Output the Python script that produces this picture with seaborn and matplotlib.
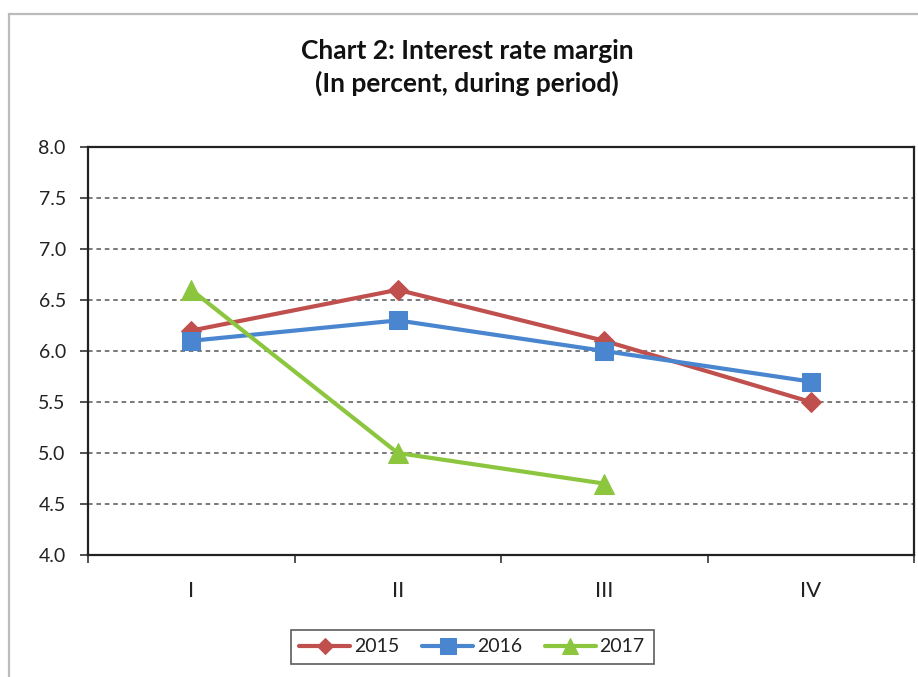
import matplotlib
matplotlib.use("Agg")
import matplotlib.pyplot as plt
import matplotlib.patches as mpatches
from matplotlib.ticker import FixedLocator, FormatStrFormatter
import pandas as pd
import seaborn as sns

# Quarterly interest rate margin, percent
quarters = ["I", "II", "III", "IV"]
margin_2015 = [6.2, 6.6, 6.1, 5.5]
margin_2016 = [6.1, 6.3, 6.0, 5.7]
margin_2017 = [6.6, 5.0, 4.7]
years = ["2015", "2016", "2017"]
y_ticks = [4.0, 4.5, 5.0, 5.5, 6.0, 6.5, 7.0, 7.5, 8.0]

rows = []
for year, vals in zip(years, [margin_2015, margin_2016, margin_2017]):
    for q, v in zip(quarters, vals):
        rows.append({"quarter": q, "year": year, "margin": v})
df = pd.DataFrame(rows)
df["pos"] = df["quarter"].map({q: i for i, q in enumerate(quarters)})

sns.set_theme(style="white")
plt.rcParams["font.family"] = ["Lato", "DejaVu Sans"]

palette = {"2015": "#C0504D", "2016": "#4A86D0", "2017": "#8CC63F"}
markers = {"2015": "D", "2016": "s", "2017": "^"}
msizes = {"2015": 10, "2016": 13, "2017": 14}

fig = plt.figure(figsize=(9.18, 6.77), dpi=100)
ax = fig.add_axes([88 / 918, 1 - 555 / 677, (914 - 88) / 918, (555 - 147) / 677])

for year in years:
    sub = df[df["year"] == year]
    sns.lineplot(data=sub, x="pos", y="margin", color=palette[year],
                 marker=markers[year], markersize=msizes[year],
                 markeredgecolor=palette[year], linewidth=3.0,
                 label=year, ax=ax, zorder=3)

ax.set_xlim(-0.5, 3.5)
ax.set_ylim(4.0, 8.0)
ax.set_xlabel("")
ax.set_ylabel("")

ax.xaxis.set_major_locator(FixedLocator(range(len(quarters))))
ax.set_xticklabels(quarters)
ax.xaxis.set_minor_locator(FixedLocator([-0.5, 0.5, 1.5, 2.5, 3.5]))
ax.tick_params(axis="x", which="major", length=0, pad=19, labelsize=16, colors="#222222")
ax.tick_params(axis="x", which="minor", length=6, width=1.2, color="#333333", direction="out")

ax.yaxis.set_major_locator(FixedLocator(y_ticks))
ax.yaxis.set_major_formatter(FormatStrFormatter("%.1f"))
ax.tick_params(axis="y", length=6, width=1.2, color="#333333", direction="out",
               labelsize=14, pad=10, labelcolor="#222222")
ax.tick_params(left=True, bottom=True, which="both")

for yv in y_ticks[1:-1]:
    ax.axhline(yv, color="#555555", linestyle=(0, (3, 2.5)), linewidth=1.1, zorder=1)

for sp in ax.spines.values():
    sp.set_visible(True)
    sp.set_color("#222222")
    sp.set_linewidth(1.6)

handles, labels = ax.get_legend_handles_labels()
ax.get_legend().remove()
leg = fig.legend(handles, labels, loc="center", bbox_to_anchor=(472 / 918, 1 - 647 / 677),
                 ncol=3, frameon=True, fancybox=False, fontsize=14,
                 handlelength=2.6, handletextpad=0.2, columnspacing=1.2,
                 borderpad=0.45, markerscale=0.85)
leg.get_frame().set_edgecolor("#333333")
leg.get_frame().set_linewidth(1.2)
for t in leg.get_texts():
    t.set_color("#222222")

fig.text(467 / 918, 1 - 51 / 677, "Chart 2: Interest rate margin",
         ha="center", va="center", fontsize=19, fontweight="bold", color="#111111")
fig.text(467 / 918, 1 - 83 / 677, "(In percent, during period)",
         ha="center", va="center", fontsize=19, fontweight="bold", color="#111111")

# outer chart frame
frame = mpatches.Rectangle((9 / 918, -0.05), 1.2, 1.05 - 14 / 677,
                           transform=fig.transFigure, fill=False,
                           edgecolor="#BBBBBB", linewidth=1.6, clip_on=False)
fig.patches.append(frame)

fig.savefig("out.png", dpi=100)
